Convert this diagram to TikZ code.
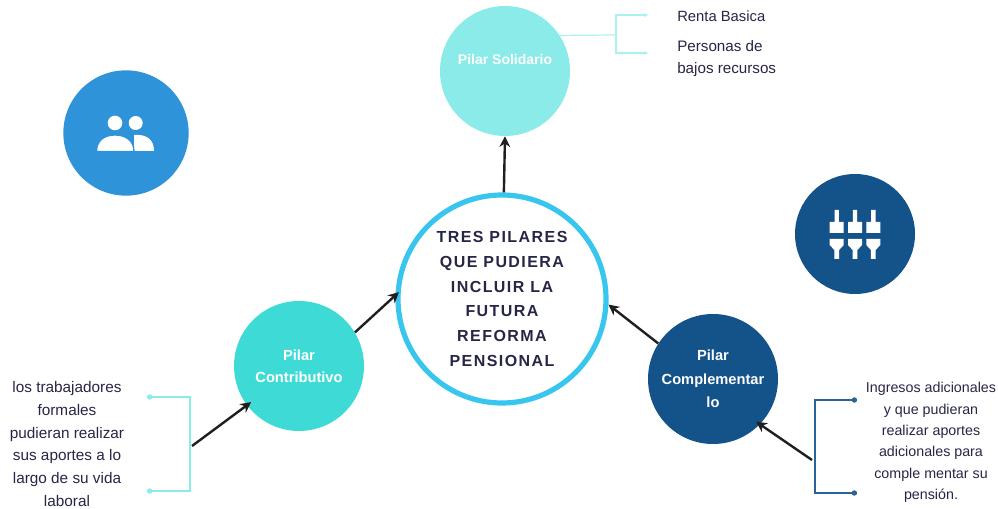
\documentclass[tikz,border=0pt]{standalone}
\usepackage{fontspec}
\setmainfont{Liberation Sans}
\newfontfamily\titulofont[LetterSpace=9]{Liberation Sans}
\usetikzlibrary{arrows.meta}

\definecolor{azulfuerte}{RGB}{20,82,138}
\definecolor{azulicono}{RGB}{46,147,216}
\definecolor{aro}{RGB}{56,198,238}
\definecolor{turquesa}{RGB}{62,219,214}
\definecolor{aguamarina}{RGB}{138,235,232}
\definecolor{tinta}{RGB}{38,38,70}

\begin{document}
\begin{tikzpicture}[x=0.75pt,y=0.75pt,yscale=-1,xscale=1,
  pilar/.style={circle,inner sep=0pt,minimum size=97.5pt,text=white,align=center,font=\bfseries\fontsize{11}{17.6}\selectfont},
  icono/.style={circle,inner sep=0pt,minimum size=#1},
  flecha/.style={-{Stealth[length=8pt,width=8pt]},line width=1.8pt,color=black!88},
  corchete/.style={line width=0.9pt},
  nota/.style={inner sep=0pt,text=tinta,font=\fontsize{11.1}{16.5}\selectfont}]
\useasboundingbox (0,0) rectangle (998,509);

%Shape: Circle, center
\node (centro) at (502,299) [circle,draw=aro,line width=3.9pt,inner sep=0pt,minimum size=156pt,align=center,text=tinta,font=\titulofont\bfseries\fontsize{12}{18.5}\selectfont]
  {TRES PILARES\\QUE PUDIERA\\INCLUIR LA\\FUTURA\\REFORMA\\PENSIONAL};
%Shape: Circle, pillars
\node (solidario) at (505,71) [pilar,fill=aguamarina] {};
\node (contributivo) at (299,366) [pilar,fill=turquesa,font=\bfseries\fontsize{11}{16.5}\selectfont] {Pilar\\Contributivo};
\node (complementario) at (713,379) [pilar,fill=azulfuerte] {Pilar\\Complementar\\lo};
\node (solidariotexto) at (505,60) [inner sep=0pt,text=white,font=\bfseries\fontsize{10.5}{16}\selectfont] {Pilar Solidario};

%Shape: Circle, icons
\node (iconogente) at (126,133) [icono=94pt,fill=azulicono] {};
\node (iconoajustes) at (855,234) [icono=90pt,fill=azulfuerte] {};

%Icon people
\fill [white] (135.7,123) circle [radius=7];
\fill [white] (134,135) .. controls (146,134) and (154,139) .. (154,151) -- (134,151) -- cycle ;
\fill [white,draw=azulicono,line width=1pt] (96.5,151.5) .. controls (96.5,140) and (105,135) .. (115,135) .. controls (125,135) and (134,140) .. (134,151.5) -- cycle ;
\fill [white] (115,123) circle [radius=7.3];

%Icon sliders
\foreach \xcol in {836.7,855,873.3} {
  \fill [white] (\xcol-2.2,210) -- (\xcol+2.2,210) -- (\xcol+2.2,222) -- (\xcol+7,222) -- (\xcol+7,233) -- (\xcol-7,233) -- (\xcol-7,222) -- (\xcol-2.2,222) -- cycle ;
  \fill [white] (\xcol-7,239) -- (\xcol+7,239) -- (\xcol+7,245) -- (\xcol+2.4,250) -- (\xcol+2.4,259) -- (\xcol-2.4,259) -- (\xcol-2.4,250) -- (\xcol-7,245) -- cycle ;
}

%Free ends of the brackets
\coordinate (contriba) at (147,397);
\coordinate (contribb) at (190,397);
\coordinate (contribc) at (190,491);
\coordinate (contribd) at (147,491);
\coordinate (contribflecha) at (192,446);
\coordinate (compa) at (857,400);
\coordinate (compb) at (815,400);
\coordinate (compc) at (815,493);
\coordinate (compd) at (857,493);
\coordinate (compflecha) at (812,460);
\coordinate (solida) at (648,15);
\coordinate (solidb) at (616,15);
\coordinate (solidc) at (616,53);
\coordinate (solidd) at (648,53);
\coordinate (solidm) at (616,35);

%Bracket lines
\draw [corchete,aguamarina,{Circle[length=4pt]}-{Circle[length=4pt]}] (contriba) -- (contribb) -- (contribc) -- (contribd) ;
\draw [corchete,azulfuerte!90!white,{Circle[length=4pt]}-{Circle[length=4pt]}] (compa) -- (compb) -- (compc) -- (compd) ;
\draw [corchete,aguamarina!70!white,{Stealth[length=3pt,width=3pt]}-{Stealth[length=3pt,width=3pt]}] (solida) -- (solidb) -- (solidc) -- (solidd) ;
\draw [corchete,aguamarina!70!white] (solidario.33.7) -- (solidm) ;

%Arrows
\draw [flecha] (centro.89.5) -- (solidario.south) ;
\draw [flecha,shorten >=-3.5pt] (contributivo.31) -- (centro.178) ;
\draw [flecha] (complementario.147) -- (centro.357) ;
\draw [flecha,shorten >=-4pt] (contribflecha) -- (contributivo.217) ;
\draw [flecha,shorten >=-3.5pt] (compflecha) -- (complementario.-44) ;

% Text Node
\node (notarenta) at (677,16) [nota,anchor=west] {Renta Basica};
% Text Node
\node (notapersonas) at (677,59) [nota,anchor=west,align=left,font=\fontsize{11.4}{16.5}\selectfont] {Personas de\\bajos recursos};
% Text Node
\node (notacontrib) at (67,444) [nota,align=center,font=\fontsize{11.5}{17.2}\selectfont] {los trabajadores\\formales\\pudieran realizar\\sus aportes a lo\\largo de su vida\\laboral};
% Text Node
\node (notacomp) at (931,442.5) [nota,align=center,font=\fontsize{10.7}{16}\selectfont] {Ingresos adicionales\\y que pudieran\\realizar aportes\\adicionales para\\comple mentar su\\pensión.};
\end{tikzpicture}
\end{document}
